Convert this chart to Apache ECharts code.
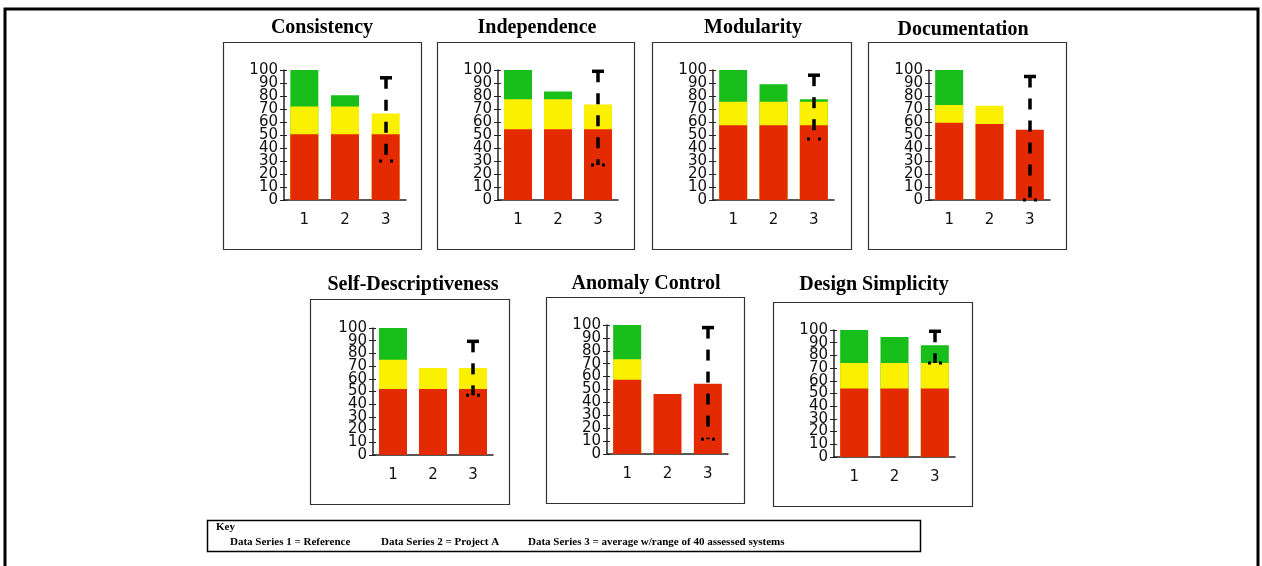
<!DOCTYPE html>
<html>
<head>
<meta charset="utf-8">
<script src="https://cdn.jsdelivr.net/npm/echarts@6/dist/echarts.min.js"></script>
<style>
html, body { margin: 0; padding: 0; background: #fff; }
#chart { width: 1262px; height: 566px; }
</style>
</head>
<body>
<div id="chart"></div>
<script>
// data
var categories = ['1', '2', '3'];
var titles = ['Consistency', 'Independence', 'Modularity', 'Documentation',
	'Self-Descriptiveness', 'Anomaly Control', 'Design Simplicity'];
// top of each coloured part of a bar, per panel, per data series
var redTops = [
	[50.5, 50.5, 50.5],
	[54.5, 54.5, 54.5],
	[57.5, 57.5, 57.5],
	[59.5, 58.5, 54],
	[52, 52, 52],
	[57.5, 46.5, 54.5],
	[54, 54, 54]
];
var yellowTops = [
	[72, 72, 66.5],
	[77.5, 77.5, 73.5],
	[75.5, 75.5, 75.5],
	[73, 72.5, null],
	[75, 68.5, 68.5],
	[73.5, null, null],
	[74, 74, 74]
];
var greenTops = [
	[100, 80.5, null],
	[100, 83.5, null],
	[100, 89, 77.5],
	[100, null, null],
	[100, null, null],
	[100, null, null],
	[100, 94.5, 88]
];
// range of the 40 assessed systems (series 3)
var rangeLow = [30, 27, 47, 0, 47, 11.5, 74];
var rangeHigh = [94, 99, 96, 95, 89.5, 98, 99];
var keyTitle = 'Key';
var keyLabels = ['Data Series 1 = Reference', 'Data Series 2 = Project A',
	'Data Series 3 = average w/range of 40 assessed systems'];

// layout
var grids = [
	{left: 284, top: 70, width: 122, height: 130},
	{left: 498, top: 70, width: 120, height: 130},
	{left: 713, top: 70, width: 121, height: 130},
	{left: 929, top: 70, width: 121, height: 130},
	{left: 373, top: 328, width: 120, height: 127},
	{left: 607, top: 325, width: 121, height: 129},
	{left: 834, top: 330, width: 121, height: 127}
];
var boxes = [
	[223, 42, 198, 207], [437, 42, 197, 207], [652, 42, 199, 207], [868, 42, 198, 207],
	[310, 299, 199, 205], [546, 297, 198, 206], [773, 302, 199, 204]
];
var titlePos = [[322, 28], [537, 28], [753, 28], [963, 30], [413, 285], [646, 284], [874, 285]];
var keyLabelX = [230, 381, 528];

var colors = {red: '#e32a00', yellow: '#fbf000', green: '#18be1a'};
var axisColor = '#222';
var chart = echarts.init(document.getElementById('chart'));

var xAxes = [], yAxes = [], series = [], graphics = [];

graphics.push({
	type: 'rect', shape: {x: 5, y: 9, width: 1253, height: 600},
	style: {fill: null, stroke: '#000', lineWidth: 3}, silent: true
});

// tick labels sit 13px apart and overlap a bit, so they are split over two axes
// (even tens on one, odd tens on the other) to stop echarts hiding any of them
function yLabel(odd) {
	return {
		color: '#111', fontSize: 15, fontFamily: 'DejaVu Sans', margin: 6,
		showMinLabel: true, showMaxLabel: true, hideOverlap: false,
		formatter: function (v) { return ((v / 10) % 2 === 1) === odd ? String(v) : ''; }
	};
}

grids.forEach(function (g, i) {
	// main axes (line, labels, outside ticks)
	xAxes.push({
		gridIndex: i, type: 'category', data: categories,
		axisLine: {lineStyle: {color: axisColor, width: 1.5}},
		axisTick: {length: 4, lineStyle: {color: axisColor}},
		axisLabel: {color: '#111', fontSize: 15, fontFamily: 'DejaVu Sans', margin: 13},
		splitLine: {show: false}
	});
	// second axes for the inside half of the crossing ticks
	xAxes.push({
		gridIndex: i, type: 'category', data: categories, position: 'bottom',
		axisLine: {show: false},
		axisTick: {inside: true, length: 4, lineStyle: {color: axisColor}},
		axisLabel: {show: false}, splitLine: {show: false}
	});
	yAxes.push({
		gridIndex: i, type: 'value', min: 0, max: 100, interval: 10,
		axisLine: {show: true, lineStyle: {color: axisColor, width: 1.5}},
		axisTick: {show: true, length: 4, lineStyle: {color: axisColor}},
		axisLabel: yLabel(false),
		splitLine: {show: false}
	});
	yAxes.push({
		gridIndex: i, type: 'value', min: 0, max: 100, interval: 10, position: 'left',
		axisLine: {show: false},
		axisTick: {show: true, inside: true, length: 3, lineStyle: {color: axisColor}},
		axisLabel: yLabel(true), splitLine: {show: false}
	});

	var xi = i * 2, yi = i * 2;
	// overlapping bars: green behind, yellow over it, red in front
	[['green', greenTops], ['yellow', yellowTops], ['red', redTops]].forEach(function (p) {
		series.push({
			type: 'bar', xAxisIndex: xi, yAxisIndex: yi,
			data: p[1][i], barWidth: 28, barGap: '-100%',
			itemStyle: {color: colors[p[0]]}, silent: true, animation: false
		});
	});
	series.push({
		type: 'custom', xAxisIndex: xi, yAxisIndex: yi,
		data: [[2, rangeLow[i], rangeHigh[i]]],
		renderItem: function (params, api) {
			var top = api.coord([api.value(0), api.value(2)]);
			var bot = api.coord([api.value(0), api.value(1)]);
			var x = Math.round(top[0]);
			return {
				type: 'group', children: [
					{type: 'line', shape: {x1: x, y1: top[1], x2: x, y2: bot[1]},
						style: {stroke: '#000', lineWidth: 3.5, lineDash: [11, 11]}},
					{type: 'line', shape: {x1: x - 6, y1: top[1], x2: x + 6, y2: top[1]},
						style: {stroke: '#000', lineWidth: 3.5}},
					{type: 'line', shape: {x1: x - 7, y1: bot[1], x2: x + 7, y2: bot[1]},
						style: {stroke: '#000', lineWidth: 3, lineDash: [3, 8]}}
				]
			};
		},
		silent: true, animation: false, z: 5
	});

	var b = boxes[i];
	graphics.push({
		type: 'rect', shape: {x: b[0] + 0.5, y: b[1] + 0.5, width: b[2], height: b[3]},
		style: {fill: null, stroke: '#333', lineWidth: 1.2}, silent: true
	});
	graphics.push({
		type: 'text', x: titlePos[i][0], y: titlePos[i][1],
		style: {text: titles[i], align: 'center', verticalAlign: 'middle',
			font: 'bold 20px "Liberation Serif"', fill: '#000'}
	});
});

// key box
graphics.push({
	type: 'rect', shape: {x: 207.5, y: 520.5, width: 713, height: 31},
	style: {fill: null, stroke: '#000', lineWidth: 1.5}, silent: true
});
graphics.push({
	type: 'text', x: 216, y: 527,
	style: {text: keyTitle, verticalAlign: 'middle', font: 'bold 11px "Liberation Serif"', fill: '#000'}
});
keyLabels.forEach(function (t, k) {
	graphics.push({
		type: 'text', x: keyLabelX[k], y: 542,
		style: {text: t, verticalAlign: 'middle', font: 'bold 11px "Liberation Serif"', fill: '#000'}
	});
});

var option = {
	animation: false,
	grid: grids,
	xAxis: xAxes,
	yAxis: yAxes,
	series: series,
	graphic: graphics
};
chart.setOption(option, true);
</script>
</body>
</html>
